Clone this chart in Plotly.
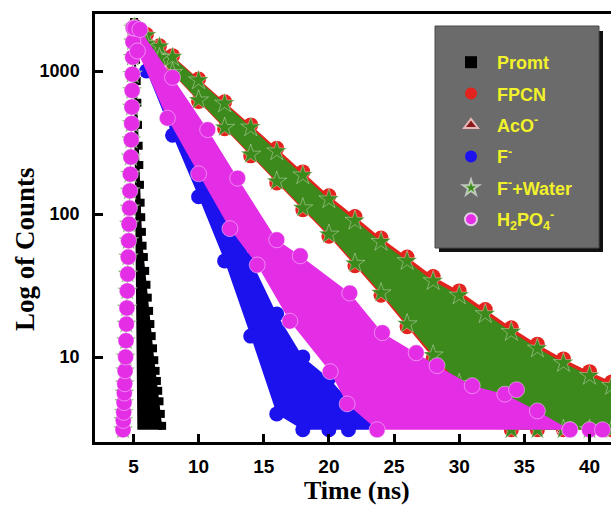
import plotly.graph_objects as go

# ---------------- data ----------------
# shared rising edge of the decays (time in ns, counts)
rise_time = [4.20, 4.22, 4.25, 4.28, 4.30, 4.33, 4.36, 4.40, 4.43, 4.46, 4.50, 4.53, 4.56, 4.60,
             4.63, 4.66, 4.70, 4.73, 4.76, 4.80, 4.83, 4.86, 4.88, 4.90, 4.92, 4.94, 4.96, 4.98]
rise_counts = [3.1, 3.6, 4.1, 4.8, 5.6, 6.5, 8, 10, 13, 17, 22, 29, 38, 50,
               65, 85, 110, 145, 190, 250, 330, 430, 560, 730, 950, 1250, 1600, 2000]

# Promt (instrument response)
promt_time = [5.00, 5.05, 5.10, 5.15, 5.20, 5.25, 5.30, 5.35, 5.40, 5.45, 5.50, 5.55, 5.60, 5.65,
              5.70, 5.80, 5.90, 6.00, 6.10, 6.20, 6.30, 6.40, 6.50, 6.60, 6.70, 6.80, 6.90, 7.00,
              7.10, 7.20]
promt_counts = [1900, 2200, 2000, 1600, 1200, 850, 600, 420, 300, 220, 160, 120, 95, 75,
                60, 50, 40, 32, 26, 21, 17, 14, 11.5, 9.5, 8, 6.8, 5.8, 4.9,
                4.0, 3.3]
floor_counts = 3.1

# band edges of the scattered point clouds (time ns, counts)
band_time = [5.1, 6, 7, 8, 10, 12, 14, 16, 18, 20, 22, 24, 26, 28, 30, 32, 34, 36, 38, 40, 41.7]
fpcn_upper = [2060, 1800, 1500, 1280, 880, 610, 420, 288, 197, 134, 96, 68, 50, 36.5, 29, 21.5,
              16, 12.3, 9.7, 7.9, 6.7]
fpcn_lower = [1850, 1530, 1220, 960, 612, 395, 255, 165, 107, 70, 43.5, 27, 16.3, 9.8, 6.2, 3.9,
              3.1, 3.1, 3.1, 3.1, 3.1]
aco_counts = [2000, 1660, 1356, 1104, 735, 489, 324, 216, 143, 95, 63.5, 42, 28, 18.7, 12.4,
              8.3, 5.5, 3.7, 3.1, 3.1, 3.1]
water_upper = [2042, 1778, 1486, 1253, 863, 594, 404, 275, 187, 127, 90, 64, 47, 34, 27, 20,
               15, 11.5, 9.1, 7.4, 6.3]
water_lower = [1862, 1549, 1236, 973, 625, 402, 261, 169, 110, 72, 45, 28, 17, 10.3, 6.5, 4.1,
               3.1, 3.1, 3.1, 3.1, 3.1]

f_time = [5.1, 6, 8, 10, 12, 14, 16, 18, 20, 21.5, 23.7]
f_upper = [2042, 1413, 631, 282, 126, 48, 20, 10, 7.1, 5.0, 3.5]
f_lower = [1905, 1000, 355, 132, 47, 14, 4.0, 3.1, 3.1, 3.1, 3.1]

h2po4_upper_time = [5.1, 5.5, 8, 10.7, 13, 16, 17.8, 21.6, 24.1, 26.7, 28.3, 31, 33.5, 36, 38.5]
h2po4_upper = [1995, 1950, 902, 389, 178, 66, 51, 28, 14.8, 10.7, 8.7, 6.3, 5.5, 4.2, 3.1]
h2po4_lower_time = [5.3, 7.6, 10, 12.4, 14.5, 17, 20.1, 21.4, 23.7, 38.5]
h2po4_lower = [1380, 468, 191, 79, 44, 17.8, 7.9, 4.7, 3.1, 3.1]
h2po4_extra_time = [34.4, 40.0, 41.0]
h2po4_extra = [5.9, 3.1, 3.1]

series_names = ["Promt", "FPCN", "AcO<sup>-</sup>", "F<sup>-</sup>", "F<sup>-</sup>+Water",
                "H<sub>2</sub>PO<sub>4</sub><sup>-</sup>"]
x_ticks = [5, 10, 15, 20, 25, 30, 35, 40]
y_ticks = [10, 100, 1000]
y_tick_text = ["10", "100", "1000"]

# ---------------- styles ----------------
C_PROMT = "#000000"
C_FPCN = "#e3231d"
C_ACO = "#8a1b1b"
C_F = "#1c12ee"
C_WATER = "#3d8a1c"
C_H2PO4 = "#e32ee6"

fig = go.Figure()


def band(tu, up, tl, lo, color):
    fig.add_trace(go.Scatter(x=list(tu) + list(tl)[::-1], y=list(up) + list(lo)[::-1],
                             mode="lines", fill="toself", fillcolor=color,
                             line=dict(color=color, width=0), showlegend=False,
                             hoverinfo="skip"))


def marks(x, y, name, color, symbol, size, lw=0, lc="white"):
    fig.add_trace(go.Scatter(x=x, y=y, mode="markers", name=name, legendgroup=name,
                             marker=dict(color=color, symbol=symbol, size=size,
                                         line=dict(width=lw, color=lc))))


# Promt
band(promt_time, promt_counts, [5.3, 7.2], [floor_counts, floor_counts], C_PROMT)
marks(promt_time, promt_counts, series_names[0], C_PROMT, "square", 8)

# FPCN
band(band_time, fpcn_upper, band_time, fpcn_lower, C_FPCN)
marks(rise_time + band_time + band_time, rise_counts + fpcn_upper + fpcn_lower,
      series_names[1], C_FPCN, "circle", 15)

# AcO-
marks(rise_time + band_time, rise_counts + aco_counts, series_names[2], C_ACO,
      "triangle-up", 12, 1, "#e8b8b8")

# F-
band(f_time, f_upper, f_time, f_lower, C_F)
marks(rise_time + f_time + f_time, rise_counts + f_upper + f_lower, series_names[3], C_F,
      "circle", 15)

# F- + Water
band(band_time, water_upper, band_time, water_lower, C_WATER)
marks(rise_time + band_time + band_time, rise_counts + water_upper + water_lower,
      series_names[4], C_WATER, "star", 15, 0.6, "rgba(255,255,255,0.6)")

# H2PO4-
band(h2po4_upper_time, h2po4_upper, h2po4_lower_time, h2po4_lower, C_H2PO4)
marks(rise_time + h2po4_upper_time + h2po4_lower_time + h2po4_extra_time,
      rise_counts + h2po4_upper + h2po4_lower + h2po4_extra,
      series_names[5], C_H2PO4, "circle", 16, 0.6, "rgba(255,255,255,0.7)")

W, H = 611, 506
ML, MR, MT, MB = 95, 0, 14, 64
PW, PH = W - ML - MR, H - MT - MB


def px(xp):
    return (xp - ML) / PW


def py(yp):
    return (H - MB - yp) / PH


fig.update_layout(
    width=W, height=H,
    margin=dict(l=ML, r=MR, t=MT, b=MB, pad=0),
    paper_bgcolor="white", plot_bgcolor="white",
    font=dict(family="Liberation Sans", color="black"),
    xaxis=dict(range=[2.05, 41.65], tickvals=x_ticks, ticks="inside", ticklen=8,
               tickwidth=2.5, tickcolor="black", showline=True, linewidth=2.5,
               linecolor="black", mirror=True, showgrid=False, zeroline=False,
               ticklabelstandoff=5,
               tickfont=dict(family="Liberation Sans", size=19, weight="bold", color="black")),
    yaxis=dict(type="log", range=[0.4056, 3.3986], tickvals=y_ticks, ticktext=y_tick_text,
               ticks="inside", ticklen=8, tickwidth=2.5, tickcolor="black", showline=True,
               linewidth=2.5, linecolor="black", showgrid=False, zeroline=False,
               ticklabelstandoff=9,
               tickfont=dict(family="Liberation Sans", size=18, weight="bold", color="black")),
    legend=dict(x=px(445), y=py(44), xanchor="left", yanchor="top",
                bgcolor="rgba(0,0,0,0)", borderwidth=0, itemwidth=42,
                itemsizing="constant", traceorder="grouped", tracegroupgap=5,
                font=dict(family="Liberation Sans", size=18, weight="bold", color="#f2f22a")),
    shapes=[
        dict(type="rect", xref="paper", yref="paper", x0=px(439), x1=px(603), y0=py(252),
             y1=py(31), fillcolor="#111111", line=dict(width=0), layer="above"),
        dict(type="rect", xref="paper", yref="paper", x0=px(435), x1=px(599), y0=py(248),
             y1=py(26), fillcolor="#6b6b6b", line=dict(width=1, color="#4a4a4a"),
             layer="above"),
    ],
    annotations=[
        dict(text="Time (ns)", xref="paper", yref="paper", x=px(357), y=py(491),
             xanchor="center", yanchor="middle", showarrow=False,
             font=dict(family="Liberation Serif", size=26, weight="bold", color="black")),
        dict(text="Log of Counts", xref="paper", yref="paper", x=px(25), y=py(249),
             xanchor="center", yanchor="middle", showarrow=False, textangle=-90,
             font=dict(family="Liberation Serif", size=27, weight="bold", color="black")),
    ],
)

fig.write_html("out.html")
